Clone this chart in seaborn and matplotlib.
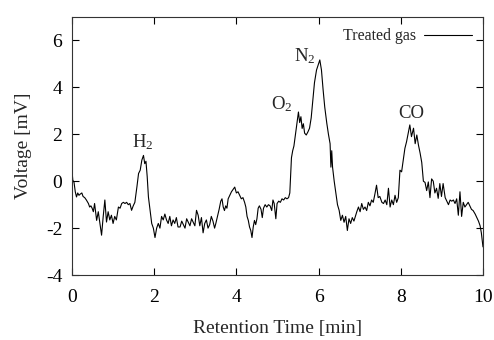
import matplotlib
matplotlib.use("Agg")
import matplotlib.pyplot as plt
import seaborn as sns
import pandas as pd

# Retention time [min] and detector voltage [mV]
time_min = [
    0.00, 0.02, 0.05, 0.08, 0.11, 0.14, 0.17, 0.20, 0.24, 0.27, 0.31, 0.35, 0.40, 0.43, 0.46, 0.49,
    0.52, 0.55, 0.60, 0.64, 0.68, 0.72, 0.76, 0.80, 0.84, 0.88, 0.92, 0.96, 1.00, 1.04, 1.08, 1.13,
    1.17, 1.21, 1.25, 1.29, 1.33, 1.37, 1.41, 1.45, 1.49, 1.53, 1.58, 1.62, 1.66, 1.70, 1.74, 1.77,
    1.80, 1.83, 1.86, 1.90, 1.94, 1.98, 2.02, 2.06, 2.10, 2.14, 2.18, 2.22, 2.26, 2.30, 2.34, 2.38,
    2.42, 2.46, 2.50, 2.54, 2.58, 2.63, 2.67, 2.71, 2.75, 2.79, 2.83, 2.87, 2.91, 2.95, 2.99, 3.03,
    3.07, 3.11, 3.15, 3.19, 3.23, 3.27, 3.31, 3.35, 3.39, 3.43, 3.47, 3.50, 3.54, 3.58, 3.62, 3.65,
    3.68, 3.71, 3.74, 3.77, 3.80, 3.84, 3.88, 3.92, 3.96, 4.00, 4.04, 4.08, 4.12, 4.16, 4.20, 4.23,
    4.26, 4.29, 4.32, 4.35, 4.38, 4.41, 4.44, 4.47, 4.50, 4.53, 4.56, 4.60, 4.63, 4.66, 4.70, 4.74,
    4.78, 4.82, 4.86, 4.89, 4.92, 4.96, 4.99, 5.03, 5.07, 5.11, 5.15, 5.19, 5.23, 5.27, 5.30, 5.32,
    5.34, 5.37, 5.40, 5.43, 5.47, 5.51, 5.54, 5.57, 5.60, 5.63, 5.66, 5.70, 5.74, 5.78, 5.82, 5.86,
    5.90, 5.95, 6.03, 6.07, 6.11, 6.15, 6.20, 6.24, 6.28, 6.30, 6.32, 6.34, 6.38, 6.42, 6.46, 6.50,
    6.54, 6.58, 6.62, 6.66, 6.70, 6.74, 6.78, 6.82, 6.86, 6.89, 6.93, 6.97, 7.01, 7.05, 7.09, 7.13,
    7.17, 7.21, 7.25, 7.29, 7.33, 7.37, 7.41, 7.45, 7.49, 7.54, 7.58, 7.62, 7.66, 7.70, 7.74, 7.78,
    7.82, 7.86, 7.90, 7.94, 7.98, 8.02, 8.06, 8.10, 8.14, 8.18, 8.22, 8.26, 8.31, 8.35, 8.39, 8.43,
    8.47, 8.51, 8.55, 8.59, 8.63, 8.67, 8.71, 8.75, 8.79, 8.83, 8.87, 8.91, 8.95, 8.99, 9.03, 9.08,
    9.12, 9.16, 9.20, 9.24, 9.28, 9.32, 9.36, 9.40, 9.44, 9.48, 9.52, 9.56, 9.60, 9.64, 9.68, 9.72,
    9.76, 9.81, 9.85, 9.89, 9.93, 9.96, 10.00,
]
voltage_mv = [
    0.45, 0.05, -0.05, -0.45, -0.67, -0.50, -0.60, -0.55, -0.50, -0.65, -0.70, -0.80, -0.95, -1.10, -1.05, -1.15,
    -1.30, -0.95, -1.67, -1.30, -1.80, -2.30, -1.50, -0.80, -1.74, -1.30, -1.65, -1.45, -1.80, -1.50, -1.65, -1.10,
    -1.15, -0.95, -0.90, -0.95, -0.90, -1.00, -0.95, -1.24, -1.05, -0.90, -0.24, 0.33, 0.47, 0.90, 1.10, 0.75,
    0.85, 0.20, -0.67, -1.24, -1.80, -2.00, -2.40, -2.00, -1.80, -2.00, -1.50, -1.65, -1.40, -1.65, -1.80, -1.50,
    -1.90, -1.65, -1.80, -1.55, -1.95, -1.95, -1.70, -1.85, -2.00, -1.60, -1.75, -1.90, -1.60, -1.75, -1.90, -1.24,
    -1.45, -1.90, -1.55, -2.20, -1.80, -1.65, -2.00, -1.85, -1.50, -1.70, -2.00, -1.80, -1.50, -1.20, -0.85, -0.75,
    -1.10, -1.25, -1.05, -1.15, -0.75, -0.60, -0.45, -0.35, -0.25, -0.50, -0.45, -0.60, -0.75, -0.70, -0.90, -1.10,
    -1.50, -1.67, -1.95, -2.10, -2.40, -1.95, -1.67, -1.85, -1.60, -1.15, -1.05, -1.20, -1.55, -1.15, -1.00, -1.10,
    -1.00, -1.05, -1.25, -0.80, -0.95, -1.60, -0.95, -0.85, -0.90, -0.75, -0.80, -0.70, -0.75, -0.70, -0.50, 0.30,
    1.00, 1.30, 1.50, 1.90, 2.45, 2.95, 2.50, 2.75, 2.25, 2.45, 2.05, 1.97, 2.10, 2.26, 2.70, 3.46,
    4.20, 4.74, 5.17, 4.74, 3.90, 3.16, 2.47, 2.00, 1.60, 0.60, 1.30, 0.60, 0.00, -0.50, -1.00, -1.24,
    -1.67, -1.45, -1.75, -1.50, -2.10, -1.60, -1.80, -1.55, -1.70, -1.53, -1.30, -1.10, -1.30, -0.95, -1.20, -1.10,
    -1.25, -0.90, -1.05, -0.80, -0.90, -0.55, -0.17, -0.70, -0.65, -0.90, -0.95, -0.80, -1.00, -0.30, -1.10, -0.80,
    -1.00, -0.60, -0.90, -0.70, 0.47, 0.40, 0.90, 1.40, 1.68, 2.05, 2.40, 1.90, 2.26, 1.60, 1.97, 1.54,
    1.20, 0.80, 0.00, -0.05, -0.40, -0.03, -0.70, 0.10, 0.00, -0.50, -0.30, -0.73, -0.10, -0.65, -0.10, -0.70,
    -0.85, -1.00, -0.80, -0.85, -0.80, -0.95, -0.75, -1.45, -0.45, -1.50, -0.90, -1.10, -1.00, -0.90, -1.05, -1.20,
    -1.25, -1.40, -1.55, -1.70, -1.90, -2.20, -2.80,
]

peak_names = ["H$_{\\mathrm{2}}$", "O$_{\\mathrm{2}}$", "N$_{\\mathrm{2}}$", "CO"]
peak_label_time = [1.73, 5.10, 5.67, 8.25]
peak_label_volt = [1.65, 3.30, 5.35, 2.90]

x_ticks = [0, 2, 4, 6, 8, 10]
y_ticks = [-4, -2, 0, 2, 4, 6]

df = pd.DataFrame({"Retention Time [min]": time_min, "Voltage [mV]": voltage_mv})

sns.set_style("ticks")
plt.rcParams["font.family"] = ["Liberation Serif", "DejaVu Serif"]
plt.rcParams["mathtext.fontset"] = "custom"
plt.rcParams["mathtext.rm"] = "Liberation Serif"
plt.rcParams["mathtext.it"] = "Liberation Serif:italic"
plt.rcParams["axes.unicode_minus"] = False

fig = plt.figure(figsize=(4.94, 3.40), dpi=100)
ax = fig.add_axes([0.1457, 0.191, 0.832, 0.759])

sns.lineplot(data=df, x="Retention Time [min]", y="Voltage [mV]", ax=ax,
             color="black", linewidth=0.8, label="Treated gas", sort=False)

ax.set_xlim(0, 10)
ax.set_ylim(-4, 7)
ax.set_xticks(x_ticks)
ax.set_yticks(y_ticks)
ax.tick_params(direction="in", length=5, width=0.8, top=True, right=True,
               labelsize=14, colors="black")
ax.tick_params(axis="x", pad=10)
ax.tick_params(axis="y", pad=7)
for s in ax.spines.values():
    s.set_linewidth(0.8)
    s.set_color("#333333")

ax.set_xlabel("Retention Time [min]", fontsize=14, labelpad=10)
ax.set_ylabel("Voltage [mV]", fontsize=14, labelpad=10)

for name, tx, vy in zip(peak_names, peak_label_time, peak_label_volt):
    ax.text(tx, vy, name, ha="center", va="center", fontsize=13.5)

leg = ax.legend(loc="upper right", frameon=False, markerfirst=False,
                handlelength=3.0, fontsize=11.5, borderaxespad=0.3,
                handletextpad=0.5)

fig.savefig("out.png", dpi=100)
